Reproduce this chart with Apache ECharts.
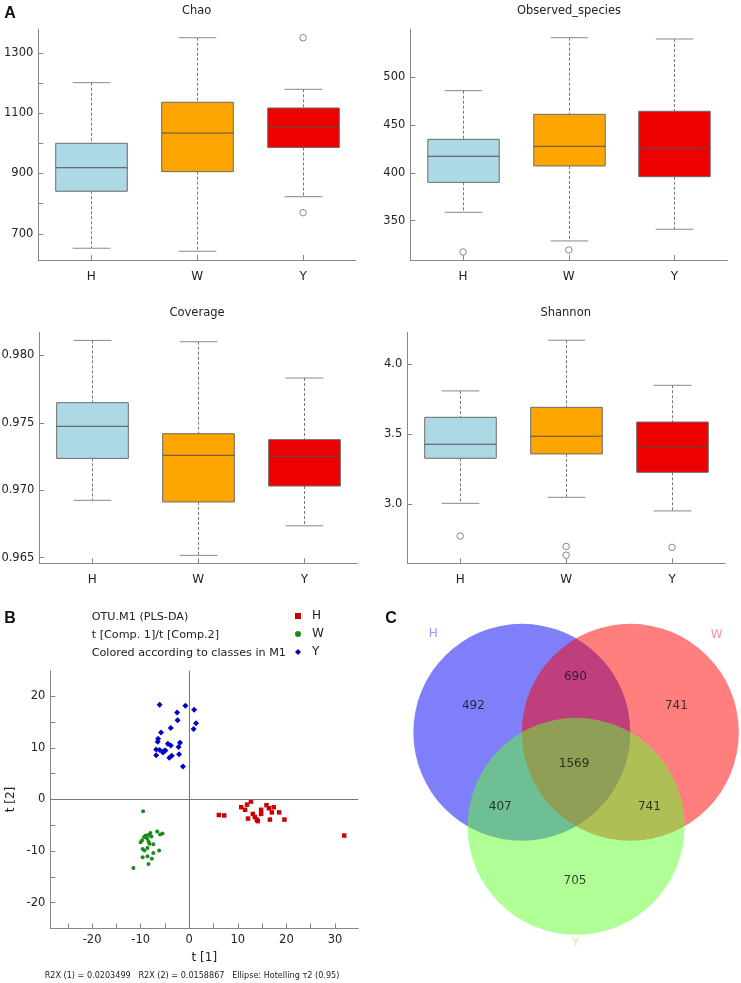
<!DOCTYPE html>
<html><head><meta charset="utf-8">
<script src="https://cdn.jsdelivr.net/npm/echarts@6/dist/echarts.min.js"></script>
<style>html,body{margin:0;padding:0;background:#fff}#c{width:741px;height:983px}</style>
</head><body><div id="c"></div>
<script>
// ---------- DATA ----------
const groups = ['H', 'W', 'Y'];
// boxplot stats: [lower whisker, Q1, median, Q3, upper whisker]
const chaoStats = [[652, 841, 919, 1000, 1201], [642, 906, 1034, 1136, 1350], [823, 986, 1054, 1117, 1179]];
const chaoOutliers = [[2, 1350], [2, 770]];
const obsStats = [[358.7, 390, 417.2, 434.9, 485.7], [328.8, 407.1, 427.6, 461, 541], [341, 395.9, 425.5, 464.2, 539.7]];
const obsOutliers = [[0, 317.3], [1, 319.4]];
const covStats = [[0.96925, 0.97236, 0.97474, 0.97649, 0.98111], [0.96517, 0.96913, 0.97259, 0.97419, 0.98101], [0.96736, 0.97031, 0.97251, 0.97375, 0.97832]];
const covOutliers = [];
const shanStats = [[3.007, 3.328, 3.428, 3.62, 3.808], [3.05, 3.359, 3.485, 3.691, 4.169], [2.953, 3.228, 3.409, 3.586, 3.848]];
const shanOutliers = [[0, 2.774], [1, 2.70], [1, 2.637], [2, 2.693]];

const chaoTicks = [700, 800, 900, 1000, 1100, 1200, 1300];
const chaoLabels = [700, 900, 1100, 1300];
const obsTicks = [350, 400, 450, 500];
const covTicks = [0.965, 0.970, 0.975, 0.980];
const shanTicks = [3.0, 3.5, 4.0];

// PLS-DA scores t[1], t[2]
const plsH = [[6.1, -3.0], [7.2, -3.1], [12.7, -0.4], [11.9, -1.0], [10.7, -1.5], [11.5, -2.0], [12.1, -3.7], [13.1, -2.8], [13.5, -3.4], [13.9, -3.9], [14.1, -4.2], [14.8, -2.8], [14.8, -2.0], [15.9, -1.1], [16.4, -1.7], [17.0, -2.5], [17.4, -1.5], [18.5, -2.5], [16.6, -3.9], [19.6, -3.9], [31.9, -7.0]];
const plsW = [[-9.5, -2.3], [-6.6, -6.2], [-5.5, -6.6], [-6.0, -6.8], [-8.0, -6.5], [-8.4, -6.9], [-9.0, -7.0], [-9.3, -7.3], [-8.7, -7.5], [-7.8, -7.2], [-9.7, -7.9], [-8.4, -8.1], [-10.0, -8.3], [-8.2, -8.6], [-7.4, -8.7], [-9.6, -9.6], [-8.6, -9.4], [-6.2, -9.9], [-9.2, -9.9], [-7.4, -10.4], [-9.6, -11.2], [-8.6, -11.0], [-7.7, -11.5], [-8.4, -12.5], [-11.5, -13.3]];
const plsY = [[-6.1, 18.4], [-0.8, 18.2], [1.0, 17.4], [-2.5, 16.9], [-2.4, 15.4], [1.4, 14.8], [-3.8, 13.9], [0.9, 13.7], [-5.8, 13.0], [-6.4, 11.8], [-6.5, 11.2], [-4.4, 10.8], [-3.8, 10.5], [-1.9, 11.0], [-2.2, 10.2], [-6.8, 9.7], [-6.1, 9.6], [-5.2, 9.4], [-4.9, 9.5], [-5.4, 9.1], [-6.8, 8.6], [-2.1, 8.8], [-4.1, 8.1], [-3.6, 8.5], [-1.3, 6.4]];
const plsXTicks = [-25, -20, -15, -10, -5, 0, 5, 10, 15, 20, 25, 30];
const plsXLabels = [-20, -10, 0, 10, 20, 30];
const plsYTicks = [-20, -15, -10, -5, 0, 5, 10, 15, 20];
const plsYLabels = [-20, -10, 0, 10, 20];

// Venn counts
const vennSets = ['H', 'W', 'Y'];
const vennRegions = ['H', 'H∩W', 'W', 'H∩W∩Y', 'H∩Y', 'W∩Y', 'Y'];
const vennCounts = [492, 690, 741, 1569, 407, 741, 705];

// ---------- LAYOUT (geometry, not data) ----------
const vennCenters = [[-0.5, 0], [0.5, 0], [0, -0.866]];
const vennRegionPos = [[-0.947, 0.242], [-0.007, 0.507], [0.924, 0.245], [-0.019, -0.295], [-0.699, -0.686], [0.675, -0.686], [-0.01, -1.371]];
const vennLabelPos = [[-1.316, 0.903], [1.296, 0.897], [-0.004, -1.939]];
const vennFill = ['rgba(0,0,245,0.5)', 'rgba(255,0,0,0.5)', 'rgba(95,255,45,0.5)'];
const vennText = ['#8080f0', '#f08080', '#b4f0a0'];

const FF = 'DejaVu Sans';
const boxColors = ['#ADD8E6', '#FFA500', '#EE0000'];
const AX = '#888';

const grids = [
  {left: 38.3, top: 29.3, width: 317.7, height: 230.7},
  {left: 410.3, top: 29.3, width: 317, height: 230.7},
  {left: 39.3, top: 332.3, width: 318, height: 231},
  {left: 407.3, top: 332.3, width: 317.7, height: 231},
  {left: 50.3, top: 670.7, width: 308, height: 257.6},
  {left: 413.35, top: 613, width: 325.5, height: 336.35}
].map(g => Object.assign({outerBoundsMode: 'none', containLabel: false}, g));

function catAxis(gi) {
  return {type: 'category', gridIndex: gi, data: groups, boundaryGap: true,
    axisLine: {show: true, onZero: false, lineStyle: {color: AX, width: 1}},
    axisTick: {show: true, inside: true, alignWithLabel: true, length: 5, lineStyle: {color: AX}},
    axisLabel: {color: '#222', fontSize: 12, fontFamily: FF, margin: 11},
    splitLine: {show: false}};
}
function valAxis(gi, min, max, ticks, labels, fmt) {
  return {type: 'value', gridIndex: gi, min: min, max: max, scale: true,
    axisLine: {show: true, onZero: false, lineStyle: {color: AX, width: 1}},
    axisTick: {show: true, inside: true, length: 5, lineStyle: {color: AX}, customValues: ticks},
    axisLabel: {color: '#222', fontSize: 11.5, fontFamily: FF, margin: 5, customValues: labels, formatter: fmt},
    splitLine: {show: false}};
}
function boxSeries(gi, stats) {
  return {
    type: 'custom', xAxisIndex: gi, yAxisIndex: gi, silent: true, clip: false,
    data: stats.map((s, i) => [i].concat(s)),
    encode: {x: 0, y: [1, 2, 3, 4, 5]},
    renderItem: function (params, api) {
      const i = api.value(0);
      const band = api.size([1, 0])[0];
      const bw = band * 0.338, cw = band * 0.178;
      const lo = api.coord([i, api.value(1)]);
      const q1 = api.coord([i, api.value(2)]);
      const md = api.coord([i, api.value(3)]);
      const q3 = api.coord([i, api.value(4)]);
      const hi = api.coord([i, api.value(5)]);
      const x = Math.round(lo[0]) + 0.5;
      const dash = {stroke: '#777', lineWidth: 1, lineDash: [3, 2]};
      const solid = {stroke: '#888', lineWidth: 1};
      return {type: 'group', children: [
        {type: 'line', shape: {x1: x, y1: hi[1], x2: x, y2: q3[1]}, style: dash},
        {type: 'line', shape: {x1: x, y1: q1[1], x2: x, y2: lo[1]}, style: dash},
        {type: 'line', shape: {x1: x - cw, y1: hi[1], x2: x + cw, y2: hi[1]}, style: solid},
        {type: 'line', shape: {x1: x - cw, y1: lo[1], x2: x + cw, y2: lo[1]}, style: solid},
        {type: 'rect', shape: {x: x - bw, y: q3[1], width: 2 * bw, height: q1[1] - q3[1]},
          style: {fill: boxColors[i], stroke: '#6a6a6a', lineWidth: 1}},
        {type: 'line', shape: {x1: x - bw, y1: md[1], x2: x + bw, y2: md[1]}, style: {stroke: '#505050', lineWidth: 1}}
      ]};
    }
  };
}
function outlierSeries(gi, pts) {
  return {type: 'scatter', xAxisIndex: gi, yAxisIndex: gi, silent: true,
    data: pts, symbol: 'circle', symbolSize: 6.5,
    itemStyle: {color: '#fff', borderColor: '#888', borderWidth: 1, opacity: 1}};
}

const txt = (t, x, y, size, opts) => Object.assign({type: 'text', x: x, y: y, silent: true,
  style: Object.assign({text: t, fontSize: size, fontFamily: FF, fill: '#222', align: 'center', verticalAlign: 'middle'}, opts || {})});

const option = {
  animation: false,
  backgroundColor: '#fff',
  grid: grids,
  xAxis: [
    catAxis(0), catAxis(1), catAxis(2), catAxis(3),
    Object.assign(valAxis(4, -28.6, 34.8, plsXTicks, plsXLabels, v => String(v)), {
      name: 't [1]', nameLocation: 'middle', nameGap: 24,
      nameTextStyle: {fontSize: 12, fontFamily: FF, color: '#222'},
      axisLabel: {color: '#222', fontSize: 11.5, fontFamily: FF, margin: 6, customValues: plsXLabels}}),
    {type: 'value', gridIndex: 5, min: -1.5, max: 1.5, show: false}
  ],
  yAxis: [
    valAxis(0, 613, 1378, chaoTicks, chaoLabels, v => String(v)),
    valAxis(1, 308.9, 549.8, obsTicks, obsTicks, v => String(v)),
    valAxis(2, 0.96458, 0.98171, covTicks, covTicks, v => v.toFixed(3)),
    valAxis(3, 2.5796, 4.2256, shanTicks, shanTicks, v => v.toFixed(1)),
    Object.assign(valAxis(4, -25, 25, plsYTicks, plsYLabels, v => String(v)), {
      name: 't [2]', nameLocation: 'middle', nameGap: 33, nameRotate: 90,
      nameTextStyle: {fontSize: 12, fontFamily: FF, color: '#222'}}),
    {type: 'value', gridIndex: 5, min: -2.0, max: 1.1, show: false}
  ],
  legend: {
    data: ['H', 'W', 'Y'], orient: 'vertical', left: 295, top: 610, padding: 0,
    itemWidth: 6, itemHeight: 6, itemGap: 6,
    textStyle: {fontSize: 12, fontFamily: FF, color: '#222', padding: [0, 0, 0, 6]}
  },
  series: [
    boxSeries(0, chaoStats), outlierSeries(0, chaoOutliers),
    boxSeries(1, obsStats), outlierSeries(1, obsOutliers),
    boxSeries(2, covStats), outlierSeries(2, covOutliers),
    boxSeries(3, shanStats), outlierSeries(3, shanOutliers),
    {name: 'H', type: 'scatter', xAxisIndex: 4, yAxisIndex: 4, data: plsH, symbol: 'rect', symbolSize: 4.5,
      itemStyle: {color: '#CC0000', opacity: 1},
      markLine: {silent: true, symbol: 'none', label: {show: false}, lineStyle: {color: '#777', type: 'solid', width: 1, opacity: 1},
        data: [{xAxis: 0}, {yAxis: 0}]}},
    {name: 'W', type: 'scatter', xAxisIndex: 4, yAxisIndex: 4, data: plsW, symbol: 'circle', symbolSize: 4,
      itemStyle: {color: '#1A8C1A', opacity: 1}},
    {name: 'Y', type: 'scatter', xAxisIndex: 4, yAxisIndex: 4, data: plsY, symbol: 'diamond', symbolSize: 6,
      itemStyle: {color: '#0000CC', opacity: 1}},
    {type: 'custom', xAxisIndex: 5, yAxisIndex: 5, silent: true, clip: false,
      data: vennSets.map((s, i) => vennCenters[i].concat([i])),
      renderItem: function (params, api) {
        const c = api.coord([api.value(0), api.value(1)]);
        const r = api.size([1, 0])[0];
        return {type: 'circle', shape: {cx: c[0], cy: c[1], r: r}, style: {fill: vennFill[api.value(2)]}};
      }},
    {type: 'scatter', xAxisIndex: 5, yAxisIndex: 5, silent: true, symbolSize: 0,
      data: vennCounts.map((n, i) => vennRegionPos[i].concat([n])),
      label: {show: true, position: 'inside', formatter: p => String(p.value[2]), fontSize: 12, fontFamily: FF, color: '#111'}},
    {type: 'scatter', xAxisIndex: 5, yAxisIndex: 5, silent: true, symbolSize: 0,
      data: vennSets.map((s, i) => ({value: vennLabelPos[i], name: s, label: {color: vennText[i]}})),
      label: {show: true, position: 'inside', formatter: p => p.name, fontSize: 12, fontFamily: FF}}
  ],
  graphic: [
    txt('A', 10, 14, 16, {fontFamily: 'Liberation Sans', fontWeight: 'bold', fill: '#111'}),
    txt('B', 10, 619, 16, {fontFamily: 'Liberation Sans', fontWeight: 'bold', fill: '#111'}),
    txt('C', 391, 619, 16, {fontFamily: 'Liberation Sans', fontWeight: 'bold', fill: '#111'}),
    txt('Chao', 196.7, 11, 11.5),
    txt('Observed_species', 569, 11, 11.5),
    txt('Coverage', 197, 313.3, 11.5),
    txt('Shannon', 565.7, 313.3, 11.5),
    txt('OTU.M1 (PLS-DA)', 91.7, 616.7, 11.2, {align: 'left'}),
    txt('t [Comp. 1]/t [Comp.2]', 91.7, 635, 11.2, {align: 'left'}),
    txt('Colored according to classes in M1', 91.7, 653, 11.2, {align: 'left'}),
    txt('R2X (1) = 0.0203499   R2X (2) = 0.0158867   Ellipse: Hotelling τ2 (0.95)', 192, 976, 8.1)
  ]
};
const chart = echarts.init(document.getElementById('c'), null, {renderer: 'canvas'});
chart.setOption(option);
</script></body></html>
